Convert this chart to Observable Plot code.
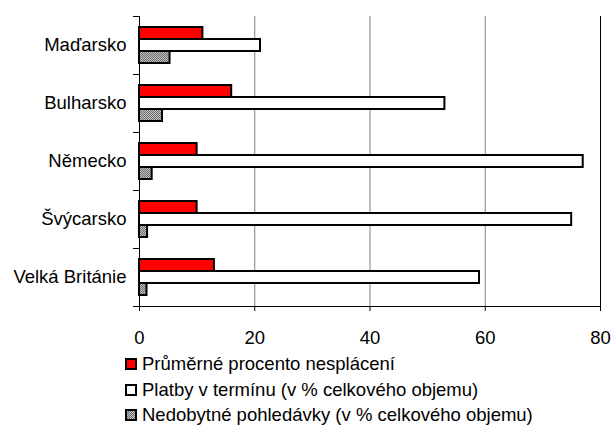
<!DOCTYPE html>
<html>
<head>
<meta charset="utf-8">
<script src="https://cdn.jsdelivr.net/npm/d3@7"></script>
<script src="https://cdn.jsdelivr.net/npm/@observablehq/plot@0.6"></script>
<style>
  html, body { margin: 0; padding: 0; background: #fff; }
  body { width: 611px; height: 425px; overflow: hidden; font-family: "Liberation Sans", Arial, sans-serif; }
  #chart svg { display: block; }
  #legend { padding-top: 0; padding-left: 125px; }
  .row { display: flex; align-items: center; height: 25.7px; font-size: 18.5px; color: #000; white-space: nowrap; }
  .sw { width: 12px; height: 12px; box-sizing: border-box; border: 2px solid #000; margin-right: 5px; flex: none; }
</style>
</head>
<body>
<div id="chart"></div>
<div id="legend"></div>
<script>
// ---- data ----
const countries = ["Maďarsko", "Bulharsko", "Německo", "Švýcarsko", "Velká Británie"];
const seriesNames = [
  "Průměrné procento nesplácení",
  "Platby v termínu (v % celkového objemu)",
  "Nedobytné pohledávky (v % celkového objemu)"
];
const nesplaceni = [11, 16, 10, 10, 13];
const vTerminu   = [21, 53, 77, 75, 59];
const nedobytne  = [5.3, 4, 2.2, 1.4, 1.3];
const xTicks = [0, 20, 40, 60, 80];
const seriesColors = ["#ff0000", "#ffffff", "url(#nedob)"];

const seriesValues = [nesplaceni, vTerminu, nedobytne];
const table = [];
countries.forEach((c, i) => {
  seriesNames.forEach((s, j) => table.push({country: c, series: s, value: seriesValues[j][i]}));
});

const W = 611, H = 351, ML = 139, MR = 11, MT = 14, MB = 43;

const chart = Plot.plot({
  width: W, height: H,
  marginLeft: ML, marginRight: MR, marginTop: MT, marginBottom: MB,
  style: {fontFamily: "'Liberation Sans', Arial, sans-serif", fontSize: "18.5px", color: "#000", background: "#fff", overflow: "visible"},
  x: {domain: [0, 80], axis: null},
  y: {domain: seriesNames, axis: null, paddingInner: 0, paddingOuter: 0.74},
  fy: {domain: countries, axis: null, paddingInner: 0, paddingOuter: 0},
  color: {domain: seriesNames, range: seriesColors},
  marks: [
    Plot.ruleX(xTicks.filter(t => t > 0 && t < 80), {stroke: "#808080", strokeWidth: 1}),
    Plot.ruleX([80], {stroke: "#000", strokeWidth: 1}),
    Plot.barX(table, {x: "value", y: "series", fy: "country", fill: "series", stroke: "#000", strokeWidth: 2}),
    Plot.ruleX([0], {stroke: "#000", strokeWidth: 1}),
    Plot.frame({anchor: "top", stroke: "#000", insetLeft: -6, insetRight: W - ML - MR}),
    Plot.frame({anchor: "bottom", stroke: "#000", insetLeft: -6, facetAnchor: "bottom"}),
    Plot.axisFy({anchor: "left", tickSize: 0, tickPadding: 13, label: null, fontSize: 18.5}),
    Plot.axisX(xTicks, {anchor: "bottom", tickSize: 5, tickPadding: 19, label: null, fontSize: 18.5, stroke: "#000"})
  ]
});

d3.select(chart).insert("defs", ":first-child").html(
  '<pattern id="nedob" width="2" height="2" patternUnits="userSpaceOnUse">' +
  '<rect width="2" height="2" fill="#c4c4c4"/><rect width="1" height="1" fill="#6a6a6a"/>' +
  '<rect x="1" y="1" width="1" height="1" fill="#6a6a6a"/></pattern>'
);
document.getElementById("chart").appendChild(chart);

// ---- legend ----
const legend = d3.select("#legend");
seriesNames.forEach((s, j) => {
  const row = legend.append("div").attr("class", "row");
  const sw = row.append("div").attr("class", "sw");
  if (j === 2) sw.style("background", "repeating-conic-gradient(#6a6a6a 0 25%, #c4c4c4 0 50%) 0 0 / 2px 2px");
  else sw.style("background", seriesColors[j]);
  row.append("span").text(s);
});
</script>
</body>
</html>
